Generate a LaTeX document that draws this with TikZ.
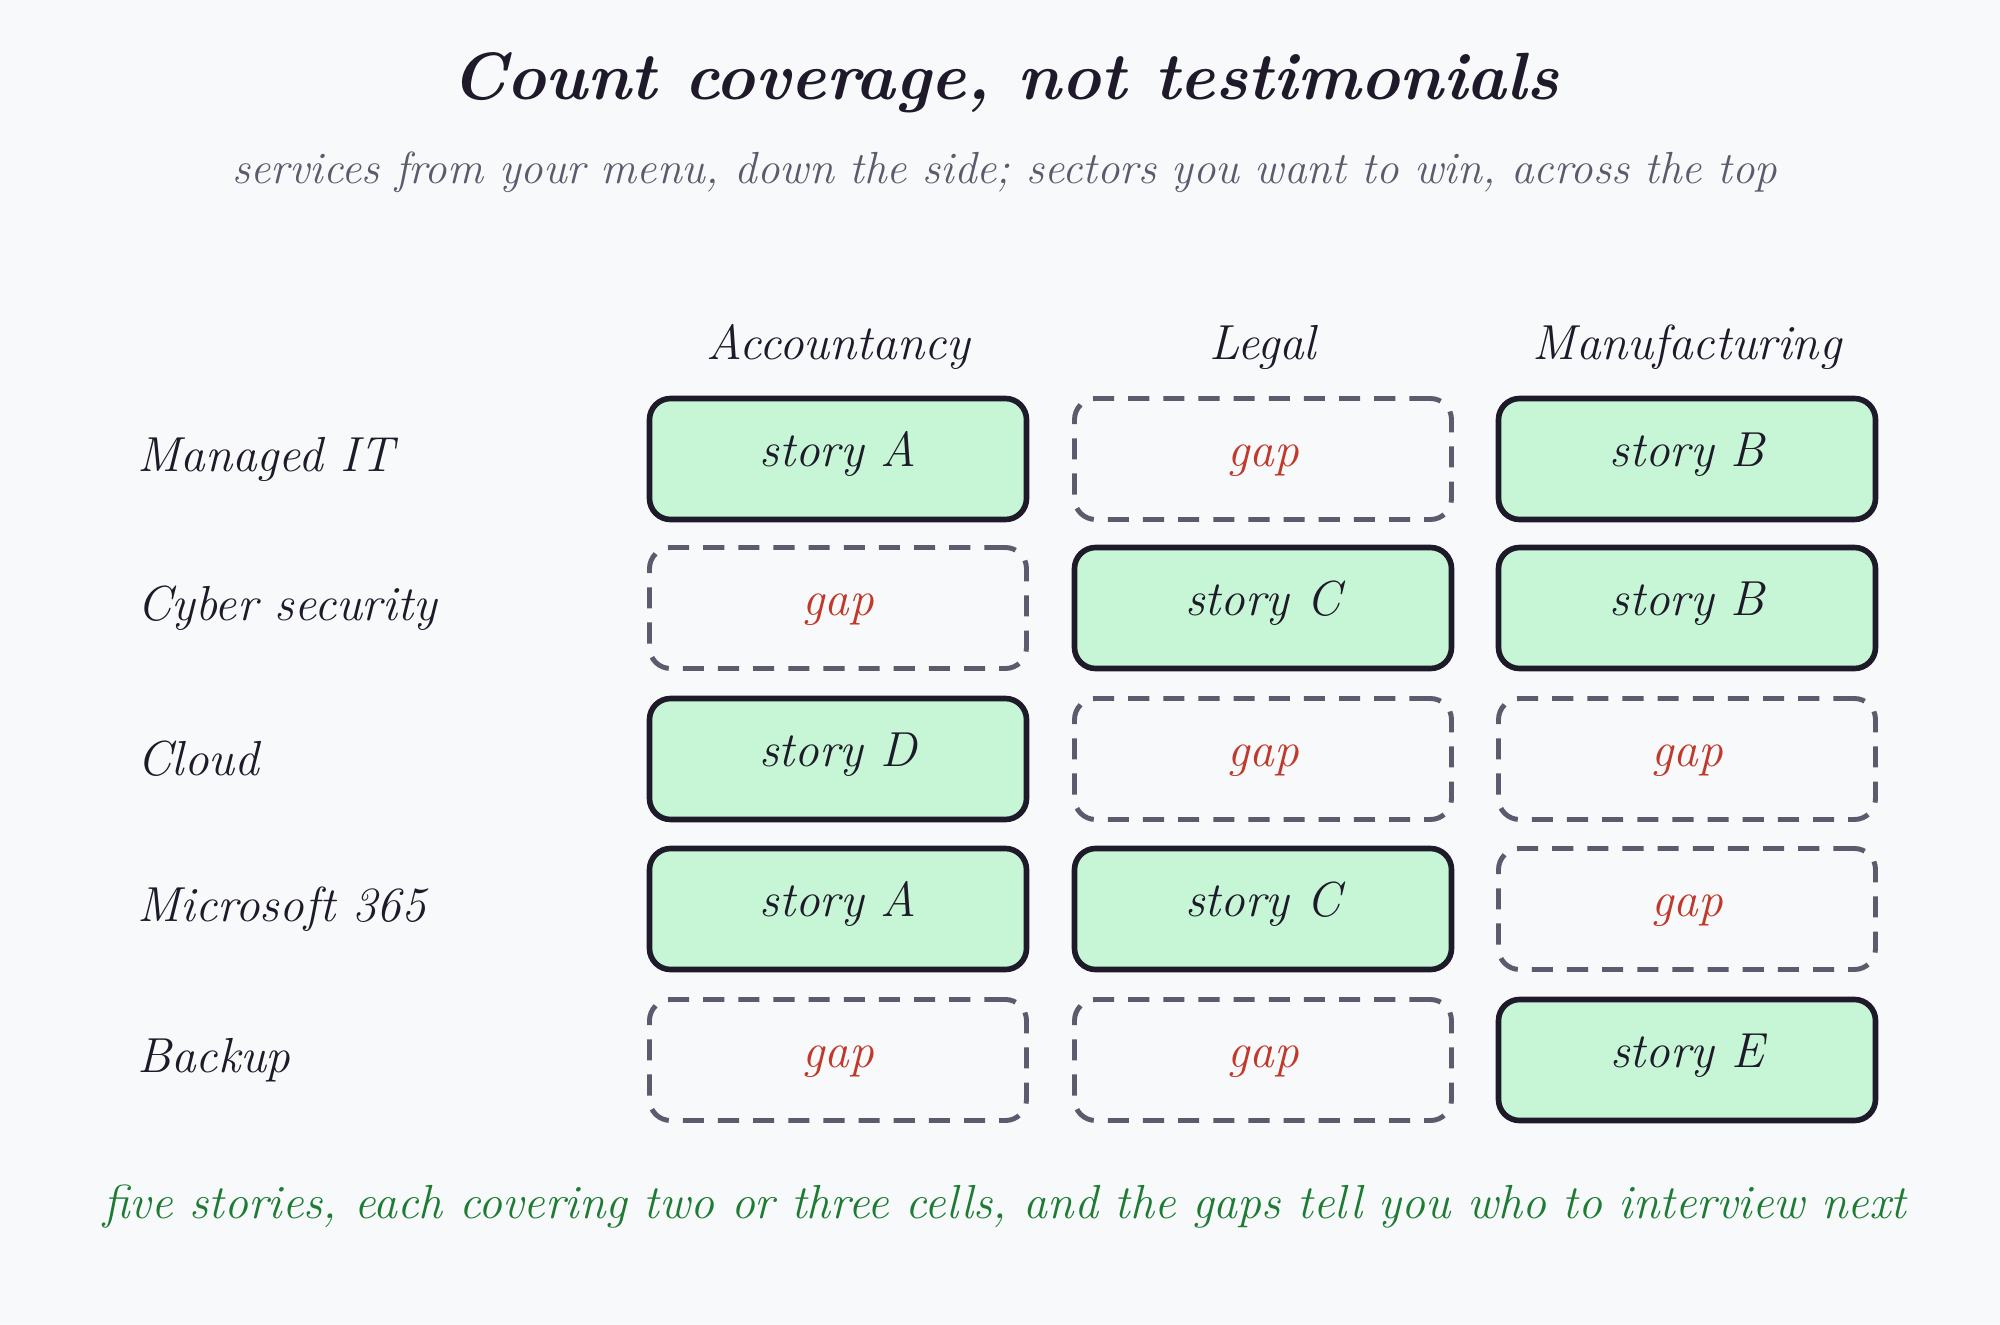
\documentclass[tikz,border=0pt]{standalone}
\usepackage{tikz}
\usetikzlibrary{positioning}
\definecolor{bgcol}{HTML}{F8F9FB}
\definecolor{inkcol}{HTML}{1E1A2A}
\definecolor{greycol}{HTML}{5E5A6E}
\definecolor{fillcol}{HTML}{C6F6D5}
\definecolor{gapcol}{HTML}{C0392B}
\definecolor{notecol}{HTML}{1E7B34}
\tikzset{
  story/.style={draw=inkcol, line width=1.6pt, rounded corners=6pt, fill=fillcol,
    minimum width=3.77cm, minimum height=1.21cm, text height=1.6ex, text depth=0.6ex,
    font=\fontsize{14}{17}\selectfont\itshape, text=inkcol},
  gap/.style={draw=greycol, line width=1.4pt, dash pattern=on 6pt off 4pt, rounded corners=6pt,
    minimum width=3.77cm, minimum height=1.21cm, text height=1.6ex, text depth=0.6ex,
    font=\fontsize{14}{17}\selectfont\itshape, text=gapcol},
  head/.style={font=\fontsize{14}{17}\selectfont\itshape, text=inkcol},
  row/.style={font=\fontsize{14}{17}\selectfont\itshape, text=inkcol, anchor=west}
}
\begin{document}
\begin{tikzpicture}
  \fill[bgcol] (0,0) rectangle (20,-13.25);
  \useasboundingbox (0,0) rectangle (20,-13.25);
  \node (title) [font=\fontsize{19}{23}\selectfont\bfseries\itshape, text=inkcol] at (10.05,-0.83) {Count coverage, not testimonials};
  \node (sub) [font=\fontsize{12.8}{15}\selectfont\itshape, text=greycol] at (10.05,-1.72) {services from your menu, down the side; sectors you want to win, across the top};
  % column heads
  \node (h1) [head] at (8.38,-3.47) {Accountancy};
  \node (h2) [head] at (12.63,-3.47) {Legal};
  \node (h3) [head] at (16.87,-3.47) {Manufacturing};
  % row labels
  \node (r1) [row] at (1.25,-4.59) {Managed IT};
  \node (r2) [row] at (1.25,-6.08) {Cyber security};
  \node (r3) [row] at (1.25,-7.59) {Cloud};
  \node (r4) [row] at (1.25,-9.09) {Microsoft 365};
  \node (r5) [row] at (1.25,-10.6) {Backup};
  % cells
  \foreach \y/\r/\ka/\ta/\kb/\tb/\kc/\tc in {
      -4.59/1/story/story A/gap/gap/story/story B,
      -6.08/2/gap/gap/story/story C/story/story B,
      -7.59/3/story/story D/gap/gap/gap/gap,
      -9.09/4/story/story A/story/story C/gap/gap,
      -10.6/5/gap/gap/gap/gap/story/story E} {
    \node (c\r a) [\ka] at (8.38,\y) {\ta};
    \node (c\r b) [\kb] at (12.63,\y) {\tb};
    \node (c\r c) [\kc] at (16.87,\y) {\tc};
  }
  \node (note) [font=\fontsize{13.6}{16}\selectfont\itshape, text=notecol] at (10.05,-12.07) {five stories, each covering two or three cells, and the gaps tell you who to interview next};
\end{tikzpicture}
\end{document}
